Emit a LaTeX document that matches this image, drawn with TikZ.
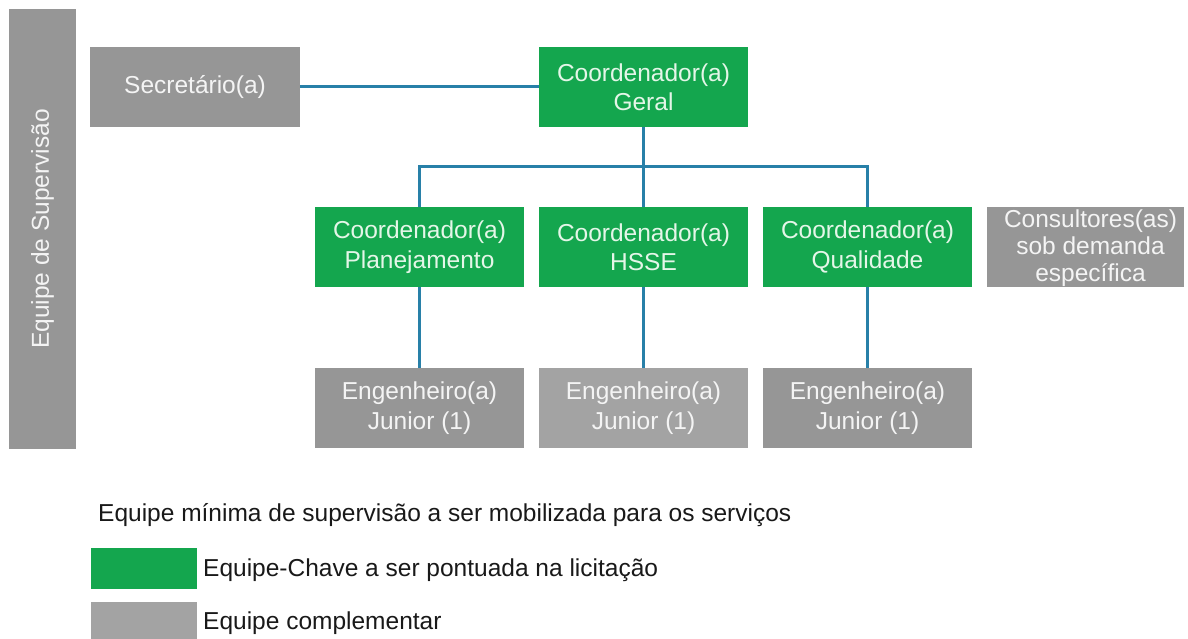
\documentclass[tikz,border=0pt]{standalone}
\usepackage{fontspec}
\setmainfont{Liberation Sans}
\definecolor{kgreen}{RGB}{20,166,78}
\definecolor{kgray}{RGB}{150,150,150}
\definecolor{kgraylt}{RGB}{163,163,163}
\definecolor{kline}{RGB}{40,128,168}
\definecolor{kgtext}{RGB}{228,246,232}
\definecolor{kwtext}{RGB}{244,244,244}
\definecolor{kdark}{RGB}{25,25,25}
\tikzset{
  box/.style={rectangle, inner sep=0pt, align=center, minimum width=209pt, minimum height=80pt,
    font=\fontsize{24.5}{29.5}\selectfont},
  greenbox/.style={box, fill=kgreen, text=kgtext},
  graybox/.style={box, fill=kgray, text=kwtext},
  conn/.style={draw=kline, line width=3pt},
  legtext/.style={anchor=west, inner sep=0pt, text=kdark, font=\fontsize{24.5}{28}\selectfont}
}
\begin{document}
\begin{tikzpicture}[x=1pt,y=-1pt]
\useasboundingbox (0,0) rectangle (1188,639);
% left bar
\node[graybox, minimum width=440pt, minimum height=67pt, rotate=90] (bar) at (42.5,229) {Equipe de Supervisão};
% top row
\node[graybox, minimum width=210pt] (sec) at (195,87) {Secretário(a)};
\node[greenbox] (geral) at (643.5,87) {Coordenador(a)\\Geral};
% second row
\node[greenbox] (plan) at (419.5,247) {Coordenador(a)\\Planejamento};
\node[greenbox] (hsse) at (643.5,247) {Coordenador(a)\\HSSE};
\node[greenbox] (qual) at (867.5,247) {Coordenador(a)\\Qualidade};
\node[graybox, minimum width=197pt] (cons) at (1085.5,247) {};
\node[inner sep=0pt, align=center, text=kwtext, font=\fontsize{24.5}{27}\selectfont] (constext) at ([xshift=5pt,yshift=-1pt]cons.center) {Consultores(as)\\sob demanda\\específica};
% third row
\node[graybox] (eng1) at (419.5,408) {Engenheiro(a)\\Junior (1)};
\node[graybox, fill=kgraylt] (eng2) at (643.5,408) {Engenheiro(a)\\Junior (1)};
\node[graybox] (eng3) at (867.5,408) {Engenheiro(a)\\Junior (1)};
% connectors
\coordinate (hub) at (643.5,167);
\draw[conn] (sec.east) -- (geral.west);
\draw[conn] (geral.south) -- (hub);
\draw[conn] (plan.north) |- (hub) -| (qual.north);
\draw[conn] (hub) -- (hsse.north);
\draw[conn] (plan.south) -- (eng1.north);
\draw[conn] (hsse.south) -- (eng2.north);
\draw[conn] (qual.south) -- (eng3.north);
% legend
\node[legtext] (leg0) at (98,515) {Equipe mínima de supervisão a ser mobilizada para os serviços};
\node[rectangle, fill=kgreen, inner sep=0pt, minimum width=106pt, minimum height=41pt] (lg1) at (144,568.5) {};
\node[rectangle, fill=kgraylt, inner sep=0pt, minimum width=106pt, minimum height=41pt] (lg2) at (144,622.5) {};
\node[legtext] (leg1) at (203,570) {Equipe-Chave a ser pontuada na licitação};
\node[legtext] (leg2) at (203,623) {Equipe complementar};
\end{tikzpicture}
\end{document}
